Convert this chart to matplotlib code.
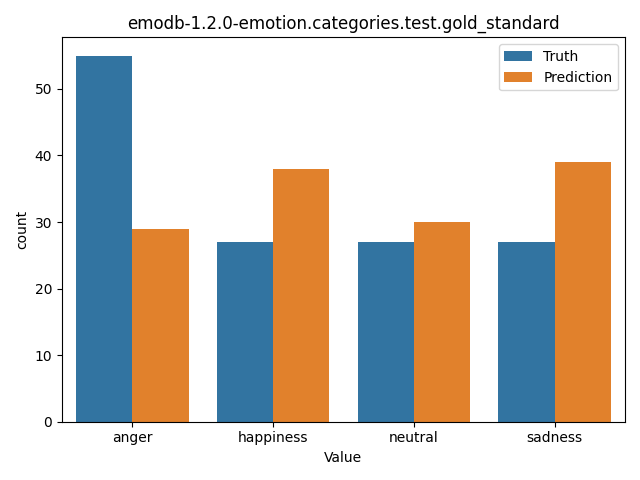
import matplotlib
matplotlib.use("Agg")
import matplotlib.pyplot as plt
import pandas as pd
import seaborn as sns

categories = ["anger", "happiness", "neutral", "sadness"]
truth = [55, 27, 27, 27]
prediction = [29, 38, 30, 39]

df = pd.DataFrame({
    "Value": categories * 2,
    "count": truth + prediction,
    "kind": ["Truth"] * len(categories) + ["Prediction"] * len(categories),
})

fig, ax = plt.subplots(figsize=(6.4, 4.8), dpi=100)
sns.barplot(data=df, x="Value", y="count", hue="kind", ax=ax)
ax.set_title("emodb-1.2.0-emotion.categories.test.gold_standard")
ax.legend(title=None)
plt.tight_layout()
plt.savefig("out.png")
